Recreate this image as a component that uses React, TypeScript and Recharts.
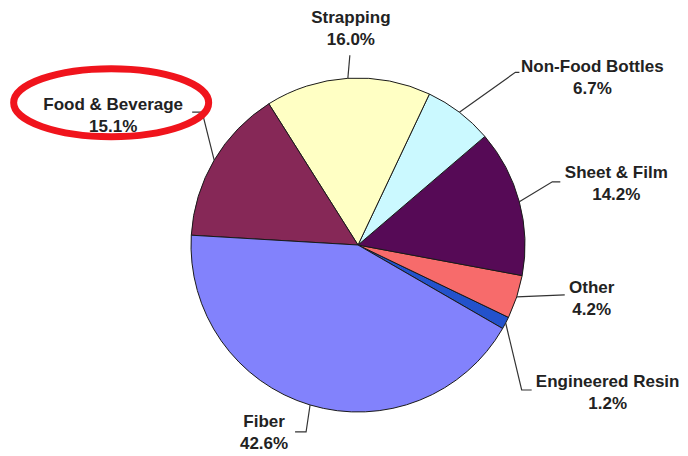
import React from 'react';
import { PieChart, Pie, Cell } from 'recharts';

// Data (counter-clockwise order starting from the lower-right)
const categories = ['Engineered Resin', 'Other', 'Sheet & Film', 'Non-Food Bottles', 'Strapping', 'Food & Beverage', 'Fiber'];
const shares = [1.2, 4.2, 14.2, 6.7, 16.0, 15.1, 42.6];
const highlighted = 'Food & Beverage';

const colors: Record<string, string> = {
  'Engineered Resin': '#2352cc',
  'Other': '#f76b6b',
  'Sheet & Film': '#560a56',
  'Non-Food Bottles': '#cbf9ff',
  'Strapping': '#ffffc4',
  'Food & Beverage': '#862857',
  'Fiber': '#8282fc',
};

// label layout: elbow offset from slice edge, tail length, text offset from slice edge
const labelLayout: Record<string, { ex: number; ey: number; h: number; tx: number; ty: number }> = {
  'Food & Beverage': { ex: -12, ey: -48, h: -10, tx: -101, ty: -56 },
  'Strapping': { ex: 2, ey: -23, h: 0, tx: 3, ty: -61 },
  'Non-Food Bottles': { ex: 56, ey: -40, h: 4, tx: 133, ty: -46 },
  'Sheet & Film': { ex: 33, ey: -20, h: 8, tx: 97, ty: -30 },
  'Other': { ex: 48, ey: -2, h: 0, tx: 75, ty: -10 },
  'Engineered Resin': { ex: 16, ey: 67, h: 10, tx: 102, ty: 58 },
  'Fiber': { ex: -4, ey: 27, h: -11, tx: -46, ty: 16 },
};

const data = categories.map((name, i) => ({ name, value: shares[i] }));

const RAD = Math.PI / 180;

const renderLabel = (props: any) => {
  const { cx, cy, midAngle, outerRadius, name, value } = props;
  const lay = labelLayout[name];
  if (!lay) return null;
  const x0 = cx + outerRadius * Math.cos(-midAngle * RAD);
  const y0 = cy + outerRadius * Math.sin(-midAngle * RAD);
  const x1 = x0 + lay.ex;
  const y1 = y0 + lay.ey;
  const x2 = x1 + lay.h;
  const tx = x0 + lay.tx;
  const ty = y0 + lay.ty;
  return (
    <g key={`lbl-${name}`}>
      <polyline points={`${x0},${y0} ${x1},${y1} ${x2},${y1}`} fill="none" stroke="#333" strokeWidth={1.2} />
      <text x={tx} y={ty + 6} textAnchor="middle" fill="#222" fontFamily="'Liberation Sans', Arial, sans-serif" fontWeight="bold" fontSize={17}>
        {name}
      </text>
      <text x={tx} y={ty + 28} textAnchor="middle" fill="#222" fontFamily="'Liberation Sans', Arial, sans-serif" fontWeight="bold" fontSize={17}>
        {`${Number(value).toFixed(1)}%`}
      </text>
      {name === highlighted && (
        <ellipse cx={tx - 2} cy={ty - 1.5} rx={97.5} ry={34} fill="none" stroke="#f0141c" strokeWidth={7} />
      )}
    </g>
  );
};

export default function App() {
  return (
    <div style={{ position: 'absolute', left: 0, top: 0, width: 688, height: 456, background: '#fff' }}>
      <PieChart width={688} height={456} margin={{ top: 0, right: 0, bottom: 0, left: 0 }}>
        <Pie
          data={data}
          dataKey="value"
          nameKey="name"
          cx={358}
          cy={245}
          outerRadius={167}
          startAngle={-30}
          endAngle={330}
          stroke="#1a1a1a"
          strokeWidth={1}
          label={renderLabel}
          labelLine={false}
          isAnimationActive={false}
        >
          {data.map((d) => (
            <Cell key={d.name} fill={colors[d.name]} />
          ))}
        </Pie>
      </PieChart>
    </div>
  );
}
